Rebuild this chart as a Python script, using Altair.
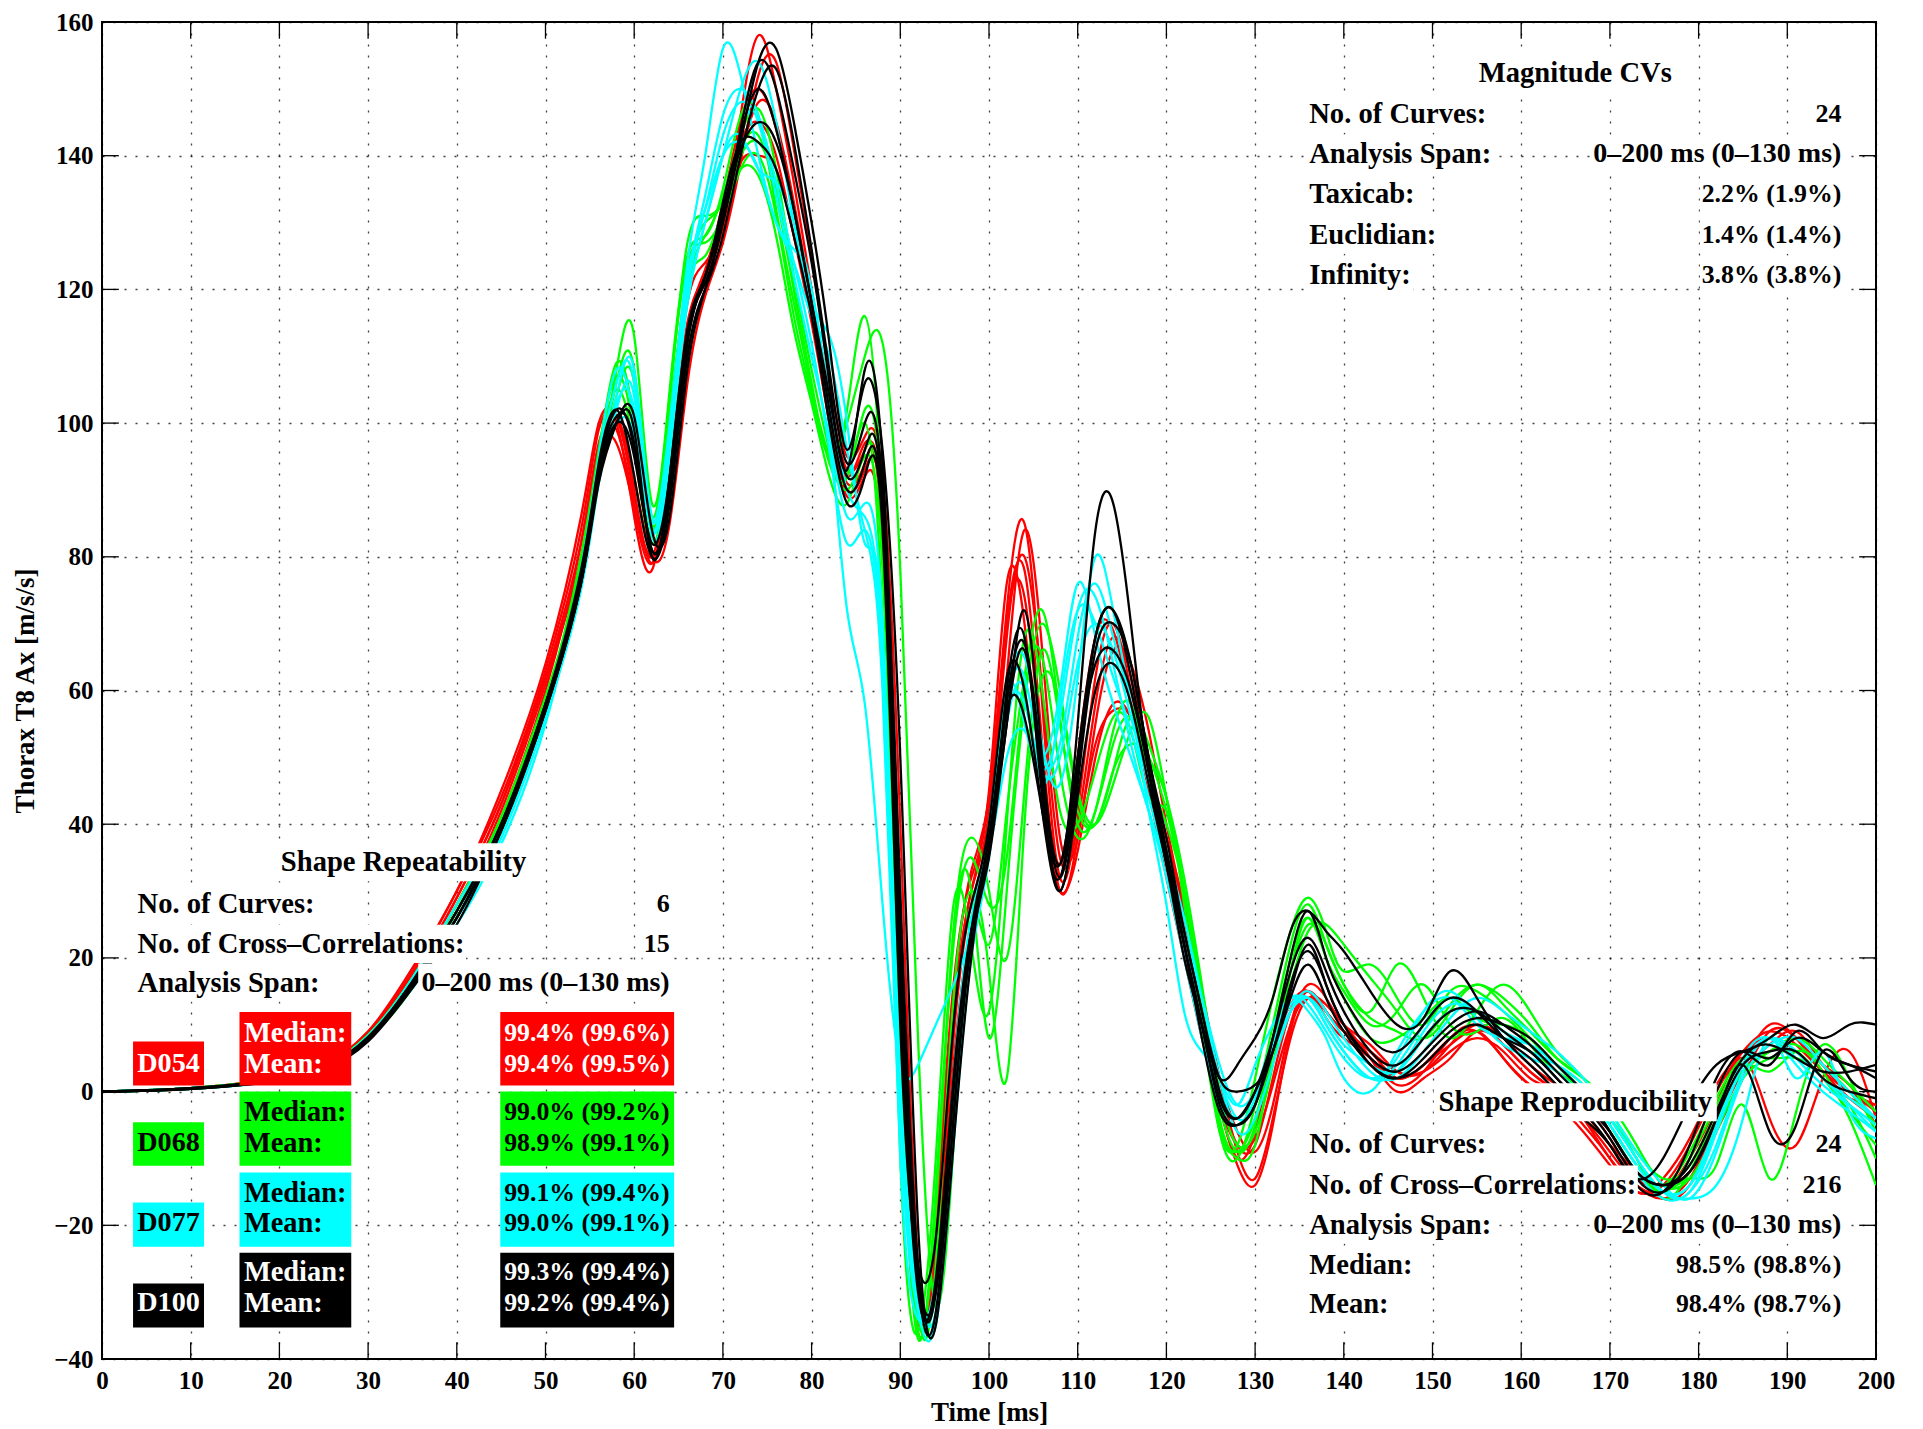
import altair as alt
import pandas as pd

# ---------------- data ----------------
T = [0, 10, 20, 25, 30, 35, 40, 45, 50,
     54, 56, 58, 60, 62, 64, 66, 68, 70, 72,
     74, 76, 78, 80, 82, 84, 86, 88, 90, 92,
     94, 96, 98, 100, 102, 104, 106, 108, 110, 112,
     114, 116, 118, 120, 122, 124, 126, 128, 130, 132,
     134, 136, 138, 140, 143, 146, 149, 152, 155, 158,
     161, 164, 167, 170, 173, 176, 179, 182, 185, 188,
     191, 194, 197, 200]

D054 = [
    [0, 0.4, 1.8, 3.6, 8.5, 17, 28, 42, 61, 80, 95, 101, 90, 79, 92, 113, 121, 130, 146,
     158, 150, 136, 120, 104, 93, 96, 85, 15, -34, -22, 12, 30, 44, 72, 85, 58, 32, 42, 62,
     70, 60, 48, 34, 22, 10, -2, -10, -6, 6, 13, 15, 11, 8, 5, 2, 4, 8, 9, 5,
     1, -2, -6, -11, -15, -14, -8, 0, 6, 9, 7, 3, 0, -3],
    [0, 0.5, 2, 3.8, 9, 18, 30, 44, 63, 84, 99, 100, 86, 78, 95, 115, 122, 129, 140,
     148, 145, 133, 118, 101, 91, 94, 88, 25, -30, -26, 8, 28, 40, 68, 80, 60, 35, 40, 58,
     68, 62, 50, 36, 24, 12, 0, -8, -8, 2, 12, 15, 12, 9, 6, 3, 3, 6, 8, 6,
     2, 0, -4, -10, -14, -15, -10, -2, 5, -4, -8, 2, 6, -4],
    [0, 0.4, 1.7, 3.5, 8, 16, 27, 41, 60, 82, 97, 99, 88, 80, 90, 110, 120, 131, 142,
     145, 140, 128, 115, 100, 89, 92, 80, 10, -36, -18, 16, 32, 45, 76, 70, 45, 30, 36, 50,
     58, 56, 48, 38, 28, 15, 2, -9, -13, -4, 8, 14, 13, 10, 5, 0, 2, 5, 9, 7,
     3, 0, -3, -8, -12, -16, -14, -6, 2, 9, 8, 4, 1, -5],
    [0, 0.5, 1.9, 3.7, 8.5, 17, 29, 43, 62, 79, 93, 100, 92, 80, 85, 106, 119, 127, 139,
     152, 154, 141, 125, 107, 95, 98, 92, 40, -26, -28, 4, 25, 38, 62, 84, 66, 38, 38, 55,
     66, 64, 54, 40, 27, 14, 2, -6, -9, -2, 10, 16, 14, 10, 7, 3, 3, 7, 10, 8,
     4, 1, -2, -7, -13, -14, -12, -5, 3, 7, 9, 4, 0, -2],
    [0, 0.4, 1.8, 3.6, 8.7, 17.5, 29, 43, 62, 82, 96, 97, 87, 79, 93, 114, 123, 133, 145,
     150, 144, 132, 117, 102, 92, 97, 83, 18, -32, -24, 10, 30, 42, 70, 74, 50, 34, 50, 68,
     69, 58, 45, 32, 20, 8, -2, -8, -7, 1, 10, 14, 12, 9, 6, 2, 4, 7, 9, 5,
     1, -1, -5, -10, -15, -13, -7, 1, 6, 8, 6, 2, -1, -2],
    [0, 0.5, 2, 3.9, 9, 18.5, 30, 45, 64, 86, 100, 101, 89, 80, 96, 118, 124, 130, 139,
     140, 138, 128, 116, 100, 90, 93, 86, 22, -33, -20, 14, 33, 44, 70, 78, 52, 30, 38, 52,
     57, 56, 48, 38, 26, 12, -2, -11, -14, -5, 9, 15, 12, 9, 5, 1, 3, 8, 10, 7,
     3, 0, -4, -9, -14, -16, -13, -5, 4, 10, 8, 3, -1, -4],
]

D068 = [
    [0, 0.5, 1.8, 3.5, 8, 16, 27, 40, 58, 76, 92, 108, 113, 88, 105, 125, 128, 135, 146,
     146, 132, 118, 105, 94, 92, 100, 70, -10, -36, -10, 28, 22, 12, 40, 68, 60, 42, 40, 48,
     56, 54, 44, 42, 30, 12, -6, -10, -2, 10, 22, 28, 22, 16, 12, 19, 14, 8, 12, 16,
     12, 6, 2, -4, -10, -15, -10, -2, 4, 3, 6, 4, 0, -5],
    [0, 0.4, 1.7, 3.4, 7.8, 15.5, 26, 39, 57, 78, 95, 109, 100, 84, 100, 122, 130, 133, 141,
     143, 134, 120, 106, 95, 100, 110, 112, 78, 8, -32, -8, 26, 22, 42, 62, 72, 56, 40, 42,
     52, 56, 50, 44, 28, 10, -6, -8, 2, 14, 24, 29, 24, 18, 19, 14, 10, 15, 15, 12,
     8, 4, 1, -5, -11, -14, -9, -1, 5, 5, 5, 2, -3, -8],
    [0, 0.5, 1.9, 3.7, 8.5, 17, 28, 41, 59, 77, 93, 104, 106, 86, 104, 124, 127, 131, 138,
     140, 131, 116, 104, 95, 102, 116, 85, 10, -36, -16, 24, 30, 8, 30, 58, 70, 60, 45, 40,
     46, 54, 56, 44, 30, 14, -4, -9, -4, 6, 16, 24, 25, 22, 17, 12, 8, 12, 16, 13,
     9, 5, 2, -3, -9, -13, -11, -3, 3, 6, 7, 3, -4, -14],
    [0, 0.5, 1.8, 3.6, 8.2, 16.5, 27, 40, 58, 79, 95, 105, 96, 82, 96, 120, 128, 134, 143,
     147, 138, 122, 108, 96, 90, 95, 78, 5, -37, -15, 22, 35, 28, 35, 60, 65, 48, 38, 42,
     54, 58, 48, 40, 30, 14, -2, -9, -5, 8, 20, 26, 20, 15, 10, 12, 16, 10, 9, 11,
     7, 3, 0, -6, -12, -15, -13, -11, -2, -13, -3, 7, 2, -6],
    [0, 0.4, 1.7, 3.5, 8, 16, 27, 40, 58, 80, 96, 107, 98, 83, 103, 127, 131, 133, 138,
     137, 128, 114, 103, 92, 88, 96, 83, 12, -34, -18, 24, 38, 30, 20, 45, 66, 55, 42, 40,
     48, 56, 52, 44, 32, 16, 0, -8, -6, 4, 18, 26, 20, 14, 8, 8, 11, 14, 11, 10,
     8, 4, 0, -4, -10, -16, -12, -4, 3, 6, 8, 5, 1, -3],
    [0, 0.5, 1.9, 3.7, 8.4, 17, 28, 41, 59, 78, 93, 106, 108, 85, 100, 121, 125, 132, 140,
     142, 135, 120, 105, 95, 92, 102, 88, 25, -32, -26, 14, 30, 18, 2, 40, 62, 58, 44, 40,
     48, 52, 50, 42, 30, 12, -5, -10, -8, 6, 18, 25, 22, 16, 11, 9, 8, 13, 16, 14,
     10, 5, 2, -2, -8, -14, -13, -6, 2, 5, 6, 2, -2, -10],
]

D077 = [
    [0, 0.4, 1.6, 3.4, 8, 16.5, 26, 38, 56, 76, 92, 104, 108, 86, 98, 124, 140, 156, 152,
     140, 130, 124, 116, 110, 96, 84, 60, -10, -34, -28, 0, 24, 38, 60, 55, 48, 56, 72, 74,
     64, 52, 42, 34, 24, 14, 4, -2, 0, 6, 12, 14, 10, 6, 2, 4, 10, 14, 12, 9,
     6, 4, 1, -4, -10, -15, -15, -6, 5, 8, 4, 0, -3, -6],
    [0, 0.5, 1.7, 3.5, 8.2, 16, 26, 38, 57, 77, 93, 103, 102, 84, 96, 118, 130, 140, 150,
     154, 145, 130, 118, 113, 100, 82, 70, 0, -30, -33, -5, 22, 36, 58, 62, 50, 52, 68, 76,
     68, 58, 46, 36, 26, 14, 2, -6, -4, 4, 12, 15, 12, 8, 3, 2, 6, 11, 14, 12,
     9, 6, 2, -3, -9, -14, -16, -9, 2, 7, 8, 4, 0, -4],
    [0, 0.4, 1.6, 3.3, 7.8, 15.5, 25, 37, 55, 78, 95, 108, 100, 85, 100, 122, 132, 140, 142,
     138, 130, 126, 120, 100, 72, 58, 28, 4, 4, 10, 16, 24, 40, 60, 65, 52, 46, 62, 80,
     72, 58, 42, 28, 12, 6, 2, -2, 4, 10, 14, 12, 8, 2, 0, 6, 12, 14, 10, 8,
     7, 4, 0, -5, -11, -15, -14, -6, 4, 8, 5, 1, -2, -5],
    [0, 0.5, 1.7, 3.5, 8.3, 16.5, 27, 39, 57, 78, 94, 106, 106, 84, 98, 121, 134, 146, 150,
     146, 136, 124, 112, 96, 82, 84, 62, -5, -33, -34, -2, 25, 38, 55, 60, 46, 58, 72, 70,
     62, 54, 44, 34, 22, 10, 0, -4, 0, 8, 14, 13, 9, 5, 2, 5, 12, 15, 11, 7,
     5, 3, -1, -6, -12, -16, -15, -8, 3, 8, 6, 2, -2, -6],
    [0, 0.4, 1.7, 3.4, 8, 16, 26, 38, 56, 75, 91, 102, 104, 83, 95, 118, 130, 140, 143,
     138, 136, 130, 120, 104, 90, 86, 66, 2, -30, -35, -8, 20, 35, 56, 58, 48, 50, 64, 70,
     66, 56, 46, 36, 24, 12, 2, -4, -2, 6, 12, 14, 11, 7, 4, 3, 8, 12, 12, 9,
     6, 4, 0, -4, -10, -15, -16, -14, -4, 8, 2, 6, -3, -7],
    [0, 0.5, 1.8, 3.6, 8.4, 17, 28, 40, 58, 78, 94, 100, 98, 84, 97, 120, 132, 143, 148,
     145, 134, 122, 110, 98, 86, 88, 70, 0, -32, -30, 2, 26, 36, 50, 54, 50, 60, 76, 68,
     58, 50, 42, 32, 20, 8, -2, -5, -1, 7, 13, 14, 10, 6, 2, 3, 9, 13, 12, 9,
     7, 4, 0, -5, -11, -15, -14, -5, 4, 8, 6, 2, -1, -4],
]

D100 = [
    [0, 0.4, 1.6, 3.2, 7.5, 15.5, 25, 39, 57, 76, 91, 100, 101, 84, 86, 108, 120, 130, 142,
     154, 156, 145, 130, 112, 96, 106, 96, 50, -20, -35, -8, 20, 38, 55, 72, 50, 34, 55, 84,
     88, 70, 48, 34, 20, 10, 2, 4, 8, 14, 24, 27, 24, 21, 15, 10, 11, 18, 14, 8,
     4, 0, -4, -8, -13, -10, -2, 4, 6, 8, 10, 8, 10, 10],
    [0, 0.5, 1.7, 3.4, 8, 16, 26, 40, 58, 77, 93, 101, 97, 81, 90, 112, 122, 131, 144,
     154, 150, 138, 124, 106, 93, 108, 94, 30, -26, -30, 0, 24, 36, 60, 68, 44, 32, 50, 68,
     72, 62, 48, 35, 22, 10, -2, -5, -2, 8, 20, 27, 20, 14, 8, 6, 10, 14, 12, 8,
     5, 1, -3, -8, -14, -15, -8, 2, 6, 4, 9, 6, 4, 2],
    [0, 0.5, 1.8, 3.5, 8.2, 16.5, 27, 40, 58, 78, 94, 102, 92, 80, 88, 110, 120, 128, 140,
     150, 153, 142, 126, 108, 94, 100, 90, 24, -28, -33, -4, 22, 35, 55, 66, 46, 30, 46, 66,
     70, 64, 50, 38, 24, 12, 0, -4, 0, 8, 18, 23, 18, 12, 6, 4, 8, 12, 12, 9,
     6, 2, -2, -7, -13, -15, -10, 0, 6, 5, 8, 6, 4, 3],
    [0, 0.4, 1.7, 3.4, 7.8, 16, 26, 39, 57, 76, 92, 100, 95, 82, 92, 113, 121, 130, 143,
     150, 144, 132, 118, 104, 92, 96, 88, 20, -27, -30, -4, 24, 38, 57, 56, 42, 34, 50, 64,
     66, 60, 48, 36, 24, 12, 2, 0, 1, 6, 16, 21, 16, 10, 5, 3, 6, 10, 12, 10,
     7, 3, -1, -6, -12, -14, -12, -4, 4, -6, -5, 6, 2, 0],
    [0, 0.5, 1.8, 3.5, 8, 16.5, 27, 40, 58, 77, 93, 102, 96, 81, 90, 112, 122, 132, 141,
     145, 142, 132, 118, 102, 90, 94, 86, 16, -30, -28, 2, 24, 36, 58, 67, 48, 32, 48, 68,
     72, 64, 50, 36, 22, 8, -3, -5, -2, 6, 15, 22, 16, 10, 4, 2, 5, 9, 11, 10,
     8, 4, 0, -6, -12, -14, -11, -3, 5, 7, 5, 3, 3, 4],
    [0, 0.4, 1.6, 3.3, 7.8, 15.8, 26, 39, 57, 76, 92, 100, 99, 80, 92, 114, 122, 133, 142,
     142, 138, 128, 116, 100, 88, 92, 84, 10, -26, -22, 10, 28, 40, 62, 60, 42, 30, 44, 60,
     64, 58, 46, 34, 22, 10, -1, -4, 0, 6, 14, 19, 14, 9, 4, 2, 4, 8, 10, 8,
     6, 2, -2, -6, -12, -14, -12, -4, 4, 6, 6, 2, 0, -1],
]

GROUPS = ["D054", "D068", "D077", "D100"]
COLORS = ["#ff0000", "#00ff00", "#00ffff", "#000000"]
TEXT_ON = ["white", "black", "black", "white"]

X_TICKS = list(range(0, 201, 10))
Y_TICKS = list(range(-40, 161, 20))

# legend (shape repeatability per subject)
MEDIANS = ["99.4% (99.6%)", "99.0% (99.2%)", "99.1% (99.4%)", "99.3% (99.4%)"]
MEANS = ["99.4% (99.5%)", "98.9% (99.1%)", "99.0% (99.1%)", "99.2% (99.4%)"]
LEG_TOP = [11.9, 0.0, -12.1, -24.1]
LEG_BOT = [0.9, -11.1, -23.2, -35.3]
LEG_DTOP = [7.5, -4.6, -16.6, -28.7]
LEG_ROW1 = [8.8, -3.1, -15.2, -27.0]
LEG_ROW2 = [4.2, -7.7, -19.7, -31.6]

# font sizes (px) per kind of text
FS_WORD, FS_SPAN, FS_INT, FS_PCT = 28.6, 28.0, 26.0, 25.8

# text blocks: (text, x, y, align, width_in_ms, font size)
REPEAT_BLOCK = [
    ("Shape Repeatability", 34.0, 34.3, "center", 27.8, FS_WORD),
    ("No. of Curves:", 4.0, 28.1, "left", 19.6, FS_WORD),
    ("6", 64.0, 28.1, "right", 1.4, FS_INT),
    ("No. of Cross\u2013Correlations:", 4.0, 22.1, "left", 36.6, FS_WORD),
    ("15", 64.0, 22.1, "right", 2.6, FS_INT),
    ("Analysis Span:", 4.0, 16.3, "left", 20.7, FS_WORD),
    ("0\u2013200 ms (0\u2013130 ms)", 64.0, 16.3, "right", 27.9, FS_SPAN),
]
MAGNITUDE_BLOCK = [
    ("Magnitude CVs", 166.1, 152.3, "center", 21.6, FS_WORD),
    ("No. of Curves:", 136.1, 146.3, "left", 19.6, FS_WORD),
    ("24", 196.1, 146.3, "right", 2.8, FS_INT),
    ("Analysis Span:", 136.1, 140.3, "left", 20.7, FS_WORD),
    ("0\u2013200 ms (0\u2013130 ms)", 196.1, 140.3, "right", 27.9, FS_SPAN),
    ("Taxicab:", 136.1, 134.2, "left", 11.7, FS_WORD),
    ("2.2% (1.9%)", 196.1, 134.2, "right", 15.5, FS_PCT),
    ("Euclidian:", 136.1, 128.2, "left", 13.8, FS_WORD),
    ("1.4% (1.4%)", 196.1, 128.2, "right", 15.5, FS_PCT),
    ("Infinity:", 136.1, 122.2, "left", 11.3, FS_WORD),
    ("3.8% (3.8%)", 196.1, 122.2, "right", 15.5, FS_PCT),
]
REPRO_BLOCK = [
    ("Shape Reproducibility", 166.1, -1.6, "center", 31.0, FS_WORD),
    ("No. of Curves:", 136.1, -7.9, "left", 19.6, FS_WORD),
    ("24", 196.1, -7.9, "right", 2.8, FS_INT),
    ("No. of Cross\u2013Correlations:", 136.1, -13.9, "left", 36.6, FS_WORD),
    ("216", 196.1, -13.9, "right", 4.1, FS_INT),
    ("Analysis Span:", 136.1, -19.9, "left", 20.7, FS_WORD),
    ("0\u2013200 ms (0\u2013130 ms)", 196.1, -19.9, "right", 27.9, FS_SPAN),
    ("Median:", 136.1, -26.0, "left", 10.8, FS_WORD),
    ("98.5% (98.8%)", 196.1, -26.0, "right", 18.5, FS_PCT),
    ("Mean:", 136.1, -31.8, "left", 8.6, FS_WORD),
    ("98.4% (98.7%)", 196.1, -31.8, "right", 18.5, FS_PCT),
]

# ---------------- tables ----------------
rows = []
cid = 0
for g, curves in zip(GROUPS, [D054, D068, D077, D100]):
    for vals in curves:
        cid += 1
        for t, v in zip(T, vals):
            rows.append({"x": t, "y": v, "group": g, "curve": f"c{cid:02d}"})
curves_df = pd.DataFrame(rows)

PADX, HALFH = 0.45, 2.85
text_rows, mask_rows = [], []
for block in (REPEAT_BLOCK, MAGNITUDE_BLOCK, REPRO_BLOCK):
    for txt, x, y, al, w, fs in block:
        text_rows.append({"txt": txt, "x": x, "y": y, "align": al, "tc": "black", "fs": fs})
        if al == "left":
            x0, x1 = x - PADX, x + w + PADX
        elif al == "right":
            x0, x1 = x - w - PADX, x + PADX
        else:
            x0, x1 = x - w / 2 - PADX, x + w / 2 + PADX
        mask_rows.append({"x": x0, "x2": x1, "y": y - HALFH, "y2": y + HALFH})
mask_df = pd.DataFrame(mask_rows)

leg_rect_rows = []
for i, g in enumerate(GROUPS):
    leg_rect_rows.append({"x": 3.5, "x2": 11.5, "y": LEG_BOT[i], "y2": LEG_DTOP[i], "fill": COLORS[i]})
    leg_rect_rows.append({"x": 15.5, "x2": 28.1, "y": LEG_BOT[i], "y2": LEG_TOP[i], "fill": COLORS[i]})
    leg_rect_rows.append({"x": 44.9, "x2": 64.5, "y": LEG_BOT[i], "y2": LEG_TOP[i], "fill": COLORS[i]})
    text_rows.append({"txt": g, "x": 7.5, "y": LEG_ROW2[i], "align": "center", "tc": TEXT_ON[i], "fs": 28.2})
    text_rows.append({"txt": "Median:", "x": 16.0, "y": LEG_ROW1[i], "align": "left", "tc": TEXT_ON[i], "fs": 28.4})
    text_rows.append({"txt": "Mean:", "x": 16.0, "y": LEG_ROW2[i], "align": "left", "tc": TEXT_ON[i], "fs": 28.4})
    text_rows.append({"txt": MEDIANS[i], "x": 64.0, "y": LEG_ROW1[i], "align": "right", "tc": TEXT_ON[i], "fs": FS_PCT})
    text_rows.append({"txt": MEANS[i], "x": 64.0, "y": LEG_ROW2[i], "align": "right", "tc": TEXT_ON[i], "fs": FS_PCT})
leg_df = pd.DataFrame(leg_rect_rows)
text_df = pd.DataFrame(text_rows)

tick_rows = []
for t in X_TICKS:
    tick_rows.append({"x": t, "x2": t, "y": -40, "y2": -37.5})
    tick_rows.append({"x": t, "x2": t, "y": 160, "y2": 157.5})
for v in Y_TICKS:
    tick_rows.append({"x": 0, "x2": 1.9, "y": v, "y2": v})
    tick_rows.append({"x": 200, "x2": 198.1, "y": v, "y2": v})
tick_df = pd.DataFrame(tick_rows)

# ---------------- chart ----------------
FONT = "Liberation Serif"
XS = alt.Scale(domain=[0, 200], nice=False, zero=False)
YS = alt.Scale(domain=[-40, 160], nice=False, zero=False)

x_axis = alt.Axis(values=X_TICKS, title="Time [ms]", grid=True, gridDash=[2, 9],
                  gridColor="#000000", gridOpacity=0.75, gridWidth=1.3, ticks=False,
                  domain=False, labelFont=FONT, labelFontSize=25, labelFontWeight="bold",
                  labelColor="black", labelPadding=9, labelFlush=False, labelOverlap=False,
                  titleFont=FONT, titleFontSize=27, titleFontWeight="bold",
                  titleColor="black", titlePadding=6)
y_axis = alt.Axis(values=Y_TICKS, title="Thorax T8 Ax [m/s/s]", grid=True, gridDash=[2, 9],
                  gridColor="#000000", gridOpacity=0.75, gridWidth=1.3, ticks=False,
                  domain=False, labelFont=FONT, labelFontSize=25, labelFontWeight="bold",
                  labelColor="black", labelPadding=9, labelFlush=False, labelOverlap=False,
                  titleFont=FONT, titleFontSize=27, titleFontWeight="bold",
                  titleColor="black", titlePadding=14)

X_ENC = alt.X("x:Q", scale=XS, axis=x_axis)
Y_ENC = alt.Y("y:Q", scale=YS, axis=y_axis)

lines = alt.Chart(curves_df).mark_line(interpolate="natural", strokeWidth=2.3, clip=True).encode(
    x=X_ENC,
    y=Y_ENC,
    color=alt.Color("group:N", scale=alt.Scale(domain=GROUPS, range=COLORS), legend=None),
    detail="curve:N",
)

masks = alt.Chart(mask_df).mark_rect(color="white").encode(
    x=X_ENC, x2="x2:Q", y=Y_ENC, y2="y2:Q",
)

leg_rects = alt.Chart(leg_df).mark_rect().encode(
    x=X_ENC, x2="x2:Q", y=Y_ENC, y2="y2:Q",
    color=alt.Color("fill:N", scale=None),
)

def text_layer(al):
    return alt.Chart(text_df).transform_filter(alt.datum.align == al).mark_text(
        font=FONT, fontWeight="bold", align=al, baseline="middle"
    ).encode(
        x=X_ENC,
        y=Y_ENC,
        text="txt:N",
        color=alt.Color("tc:N", scale=None),
        size=alt.Size("fs:Q", scale=None),
    )

ticks = alt.Chart(tick_df).mark_rule(color="black", strokeWidth=1.3).encode(
    x=X_ENC, x2="x2:Q", y=Y_ENC, y2="y2:Q",
)

chart = alt.layer(
    lines, masks, leg_rects, text_layer("left"), text_layer("right"), text_layer("center"), ticks
).properties(
    width=1774, height=1337,
    padding={"left": 94, "top": 14, "right": 20, "bottom": 66},
    autosize=alt.AutoSizeParams(type="none"),
    background="white",
).configure_view(stroke="black", strokeWidth=2)

chart.save("out.html", embed_options={"renderer": "svg", "actions": False})
